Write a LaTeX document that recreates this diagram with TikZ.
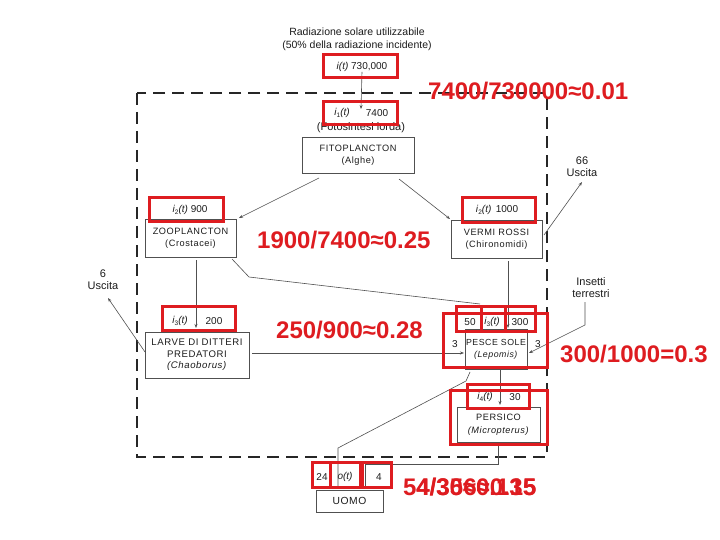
\documentclass[tikz,border=0pt]{standalone}
\usepackage{fontspec}
\setmainfont{Liberation Sans}
\newfontfamily\boxfont[LetterSpace=6]{Liberation Sans}
\usetikzlibrary{arrows.meta}
\definecolor{mred}{RGB}{222,28,32}
\definecolor{ink}{RGB}{28,28,28}
\definecolor{edge}{RGB}{80,80,80}
\newcommand{\ilab}[1]{\textit{i}\raisebox{-0.3ex}{\fontsize{6.5}{7}\selectfont #1}\textit{(t)}}
\tikzset{
  txt/.style={font=\fontsize{10}{12}\selectfont, text=ink, inner sep=0pt, align=center},
  side/.style={font=\fontsize{11}{12}\selectfont, text=ink, inner sep=0pt, align=center},
  bx/.style={draw=edge, line width=0.65pt, font=\boxfont\fontsize{9.2}{12.5}\selectfont, text=ink, align=center, inner sep=0pt},
  flow/.style={draw=edge, line width=0.6pt, -{Stealth[length=4pt,width=3pt]}},
  plain/.style={draw=edge, line width=0.6pt},
  redbox/.style={draw=mred, line width=3pt},
  ratio/.style={text=mred, font=\bfseries\fontsize{24}{24}\selectfont, inner sep=0pt, anchor=west},
  frame/.style={draw=black!85, line width=1.4pt, dash pattern=on 12pt off 7pt},
}
\begin{document}
\begin{tikzpicture}[x=1pt,y=-1pt]
\useasboundingbox (0,0) rectangle (720,540);
\fill[white] (0,0) rectangle (720,540);
\draw[frame] (137,93) rectangle (547,457);

% organism boxes
\node[bx, minimum width=112pt, minimum height=36pt] (fito) at (358,155) {FITOPLANCTON\\(Alghe)};
\node[bx, minimum width=91pt, minimum height=38pt] (zoo) at (190.5,238) {ZOOPLANCTON\\(Crostacei)};
\node[bx, minimum width=91pt, minimum height=38pt] (vermi) at (496.5,239) {VERMI ROSSI\\(Chironomidi)};
\node[bx, minimum width=104pt, minimum height=46pt, font=\boxfont\fontsize{9.6}{11.5}\selectfont] (larve) at (197,355) {LARVE DI DITTERI\\PREDATORI\\\textit{(Chaoborus)}};
\node[bx, minimum width=62pt, minimum height=40pt, font=\boxfont\fontsize{8.8}{12}\selectfont] (sole) at (496,349) {PESCE SOLE\\\textit{(Lepomis)}};
\node[bx, minimum width=83pt, minimum height=35pt] (persico) at (498.5,424.5) {PERSICO\\\textit{(Micropterus)}};
\node[bx, minimum width=67pt, minimum height=22pt, font=\boxfont\fontsize{10.3}{12}\selectfont] (uomo) at (349.5,501) {UOMO};

% labels
\node[txt, font=\fontsize{10.5}{13}\selectfont] (rad) at (357,39.5) {Radiazione solare utilizzabile\\(50\% della radiazione incidente)};
\node[txt] (sun) at (362,67) {\textit{i(t)} 730,000};
\node[txt] (i1a) at (342,113) {\ilab{1}};
\node[txt] (i1b) at (377,113) {7400};
\node[txt, font=\fontsize{11}{12}\selectfont] (foto) at (361,128) {(Fotosintesi lorda)};
\node[txt] (i2z) at (190,210) {\ilab{2} 900};
\node[txt] (i2v) at (497,210) {\ilab{2}\, 1000};
\node[txt] (i3la) at (180,321) {\ilab{3}};
\node[txt] (i3lb) at (214,321) {200};
\node[txt] (s50) at (470,322) {50};
\node[txt] (i3s) at (492,322) {\ilab{3}};
\node[txt] (s300) at (520,322) {300};
\node[txt] (s3l) at (455,344) {3};
\node[txt] (s3r) at (538,344) {3};
\node[txt] (i4a) at (485,397) {\ilab{4}};
\node[txt] (i4b) at (515,397) {30};
\node[txt] (u24) at (322,477) {24};
\node[txt] (uo) at (345,477) {\textit{o(t)}};
\node[txt] (u4) at (379,477) {4};
\node[side] (out66) at (582,167) {66\\Uscita};
\node[side] (out6) at (103,280) {6\\Uscita};
\node[side] (ins) at (591,288) {Insetti\\terrestri};

% connector points
\coordinate (c1) at (361,109);
\coordinate (fz0) at (319,178);
\coordinate (fz1) at (239,218);
\coordinate (fv0) at (399,179);
\coordinate (fv1) at (450,219);
\coordinate (zl0) at (196,260);
\coordinate (zl1) at (196,328);
\coordinate (zs0) at (232,259);
\coordinate (zs1) at (249,277);
\coordinate (zs2) at (480,304);
\coordinate (vs0) at (508,261);
\coordinate (vs1) at (508,328);
\coordinate (ls0) at (252,353);
\coordinate (ls1) at (464,353);
\coordinate (is0) at (585,302);
\coordinate (is1) at (585,325);
\coordinate (is2) at (529,353);
\coordinate (vo0) at (544,235);
\coordinate (vo1) at (582,182);
\coordinate (lo0) at (145,352);
\coordinate (lo1) at (108,298);
\coordinate (sp0) at (500,370);
\coordinate (sp1) at (500,405);
\coordinate (su0) at (470,372);
\coordinate (su1) at (466,381);
\coordinate (su2) at (338,448);
\coordinate (su3) at (338,486);
\coordinate (pu0) at (498,443);
\coordinate (pu1) at (498,464);
\coordinate (pu2) at (365,464);
\coordinate (pu3) at (365,486);

\draw[flow] (sun.south) -- (c1);
\draw[flow] (fz0) -- (fz1);
\draw[flow] (fv0) -- (fv1);
\draw[flow] (zl0) -- (zl1);
\draw[plain] (zs0) -- (zs1) -- (zs2);
\draw[flow] (vs0) -- (vs1);
\draw[flow] (ls0) -- (ls1);
\draw[flow] (is0) -- (is1) -- (is2);
\draw[flow] (vo0) -- (vo1);
\draw[flow] (lo0) -- (lo1);
\draw[flow] (sp0) -- (sp1);
\draw[plain] (su0) -- (su1) -- (su2) -- (su3);
\draw[plain] (pu0) -- (pu1) -- (pu2) -- (pu3);

% red highlight boxes
\draw[redbox] (323,55) rectangle (397,78);
\draw[redbox] (323,102) rectangle (397,125);
\draw[redbox] (149,198) rectangle (223,222);
\draw[redbox] (462,198) rectangle (535,223);
\draw[redbox] (162,306) rectangle (235,330);
\draw[redbox] (456,306) rectangle (481,331);
\draw[redbox] (481,306) rectangle (505,331);
\draw[redbox] (505,306) rectangle (535,331);
\draw[redbox] (443,313) rectangle (547,367);
\draw[redbox] (467,384) rectangle (529,408);
\draw[redbox] (450,390) rectangle (547,444);
\draw[redbox] (312,462) rectangle (330,487);
\draw[redbox] (330,462) rectangle (360,487);
\draw[redbox] (362,462) rectangle (391,487);

% red ratios
\node[ratio] (r1) at (428,91) {7400/730000≈0.01};
\node[ratio] (r2) at (257,240) {1900/7400≈0.25};
\node[ratio] (r3) at (276,330) {250/900≈0.28};
\node[ratio] (r4) at (560,354) {300/1000=0.3};
\node[ratio] (r5) at (403,487) {54/356≈0.15};
\node[ratio] (r6) at (416,487) {4/30≈0.135};
\end{tikzpicture}
\end{document}
